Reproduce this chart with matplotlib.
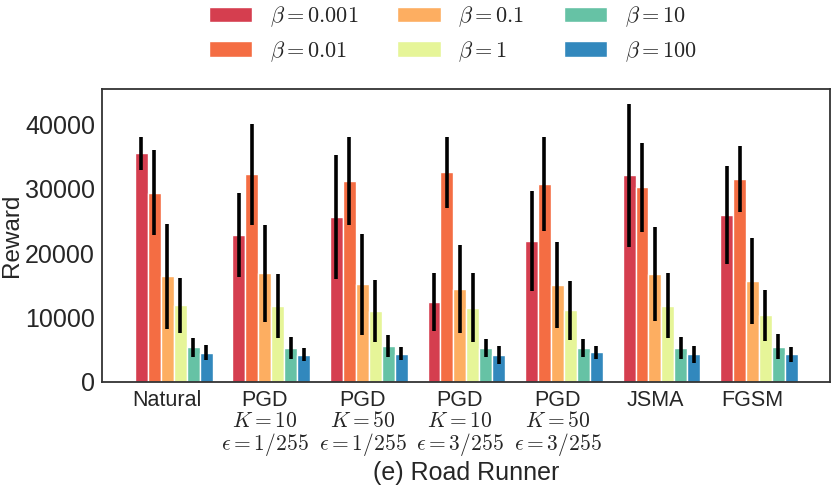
import numpy as np
import matplotlib
matplotlib.use("Agg")
import matplotlib.pyplot as plt

plt.rcParams['font.family'] = ['Liberation Sans', 'DejaVu Sans']
plt.rcParams['mathtext.fontset'] = 'cm'
plt.rcParams['text.color'] = '#262626'
plt.rcParams['axes.labelcolor'] = '#262626'
plt.rcParams['xtick.color'] = '#262626'
plt.rcParams['ytick.color'] = '#262626'

attacks = ["Natural",
           "PGD\n$K=10$\n$\\epsilon=1/255$",
           "PGD\n$K=50$\n$\\epsilon=1/255$",
           "PGD\n$K=10$\n$\\epsilon=3/255$",
           "PGD\n$K=50$\n$\\epsilon=3/255$",
           "JSMA",
           "FGSM"]
betas = ["$\\beta=0.001$", "$\\beta=0.01$", "$\\beta=0.1$",
         "$\\beta=1$", "$\\beta=10$", "$\\beta=100$"]
colors = ["#d53e4f", "#f46d43", "#fdae61", "#e6f598", "#66c2a5", "#3288bd"]

# mean reward, rows = beta, cols = attack
means = [
    [35460, 22740, 25580, 12400, 21860, 32090, 25840],
    [29350, 32200, 31220, 32510, 30750, 30230, 31470],
    [16430, 16850, 15140, 14420, 15090, 16800, 15660],
    [11890, 11780, 10960, 11520, 11110, 11830, 10340],
    [5370, 5270, 5580, 5270, 5270, 5270, 5480],
    [4550, 4240, 4390, 4190, 4600, 4290, 4340],
]
stds = [
    [2580, 6510, 9660, 4540, 7770, 11090, 7600],
    [6600, 7900, 6870, 5530, 7260, 6900, 5090],
    [8140, 7520, 7870, 6820, 6690, 7290, 6610],
    [4290, 4990, 4800, 5330, 4620, 5010, 4000],
    [1450, 1650, 1700, 1390, 1440, 1730, 1910],
    [1190, 980, 1010, 1370, 1030, 1270, 1160],
]

x = np.arange(len(attacks))
width = 0.133

fig = plt.figure(figsize=(8.31, 4.86), dpi=100)
ax = fig.add_axes([0.1227, 0.214, 0.876, 0.602])

for i in range(len(betas)):
    ax.bar(x + i * width, means[i], width, color=colors[i], edgecolor='white',
           linewidth=1, label=betas[i], zorder=2)
    ax.errorbar(x + i * width, means[i], yerr=stds[i], fmt='none',
                ecolor='black', elinewidth=2.6, capsize=0, zorder=3)

ax.set_xlim(-0.405, 7.06)
ax.set_ylim(0, 45400)
ax.set_xticks(x + 2 * width)
ax.set_xticklabels(attacks, fontsize=15.5, linespacing=0.95)
ax.set_yticks([0, 10000, 20000, 30000, 40000])
ax.tick_params(axis='y', labelsize=18, length=0, pad=5)
ax.tick_params(axis='x', length=0, pad=6)
ax.set_ylabel("Reward", fontsize=17.5)
ax.yaxis.set_label_coords(-0.108, 0.5)
ax.set_xlabel("(e) Road Runner", fontsize=18)
ax.xaxis.set_label_coords(0.5, -0.27)
for s in ax.spines.values():
    s.set_color('#333333')
    s.set_linewidth(1.3)

ax.legend(loc='lower center', bbox_to_anchor=(0.482, 1.02), ncol=3,
          frameon=False, fontsize=16, handlelength=1.95, handleheight=0.7,
          columnspacing=1.75, labelspacing=0.45)

fig.savefig("out.png", dpi=100)
